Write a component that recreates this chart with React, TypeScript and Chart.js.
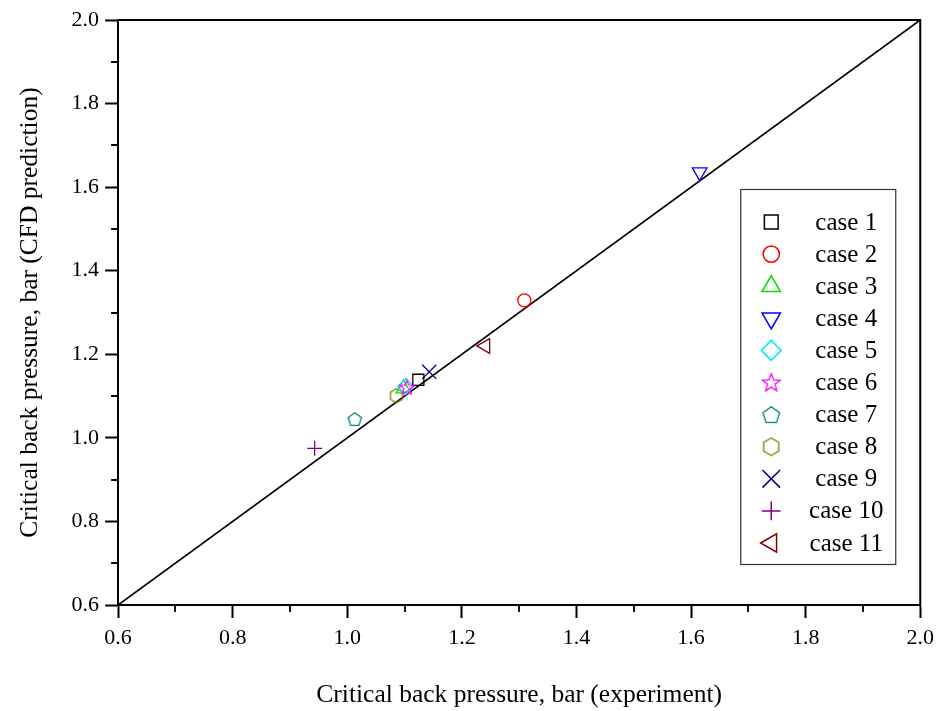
import React, { useEffect, useRef } from 'react';
import Chart from 'chart.js/auto';
import { drawPoint } from 'chart.js/helpers';

const caseLabels = ['case 1', 'case 2', 'case 3', 'case 4', 'case 5', 'case 6', 'case 7', 'case 8', 'case 9', 'case 10', 'case 11'];
const expValues = [1.124, 1.309, 1.098, 1.615, 1.102, 1.104, 1.013, 1.086, 1.143, 0.943, 1.241];
const cfdValues = [1.139, 1.329, 1.118, 1.636, 1.123, 1.121, 1.045, 1.101, 1.158, 0.975, 1.220];
const caseColors = ['#000000', '#ff0000', '#00e000', '#0000ff', '#00e8ff', '#ff00ff', '#008080', '#808000', '#000080', '#800080', '#800000'];
const diagonalValues = [0.6, 2.0];
const axisMin = 0.6;
const axisMax = 2.0;
const xTitle = 'Critical back pressure, bar (experiment)';
const yTitle = 'Critical back pressure, bar (CFD prediction)';

const FONT = '"Liberation Serif", "Times New Roman", serif';

function makeShape(kind: string, color: string, k: number): HTMLCanvasElement {
  const size = Math.ceil(18 * k) + 2;
  const c = document.createElement('canvas');
  c.width = size;
  c.height = size;
  const ctx = c.getContext('2d')!;
  ctx.strokeStyle = color;
  ctx.lineWidth = 1.3;
  ctx.lineJoin = 'miter';
  const cx = size / 2;
  const cy = size / 2;
  ctx.beginPath();
  if (kind === 'star') {
    const ro = 7.5 * k, ri = 3.2 * k;
    for (let i = 0; i < 10; i++) {
      const r = i % 2 === 0 ? ro : ri;
      const a = -Math.PI / 2 + (i * Math.PI) / 5;
      const px = cx + r * Math.cos(a);
      const py = cy + r * Math.sin(a) + 0.5 * k;
      if (i === 0) ctx.moveTo(px, py); else ctx.lineTo(px, py);
    }
  } else if (kind === 'pentagon') {
    const r = 7 * k;
    for (let i = 0; i < 5; i++) {
      const a = -Math.PI / 2 + (i * 2 * Math.PI) / 5;
      const px = cx + r * Math.cos(a);
      const py = cy + r * Math.sin(a) + 0.7 * k;
      if (i === 0) ctx.moveTo(px, py); else ctx.lineTo(px, py);
    }
  } else {
    const r = 7 * k;
    for (let i = 0; i < 6; i++) {
      const a = -Math.PI / 2 + (i * 2 * Math.PI) / 6;
      const px = cx + r * Math.cos(a);
      const py = cy + r * Math.sin(a);
      if (i === 0) ctx.moveTo(px, py); else ctx.lineTo(px, py);
    }
  }
  ctx.closePath();
  ctx.stroke();
  return c;
}

const isMajor = (v: number) => Math.round(v * 10) % 2 === 0;

function buildStyles(k: number): any[] {
  return [
    { pointStyle: 'rect', radius: 7.8 * k, rotation: 0 },
    { pointStyle: 'circle', radius: 6.5 * k, rotation: 0 },
    { pointStyle: 'triangle', radius: 8.5 * k, rotation: 0 },
    { pointStyle: 'triangle', radius: 8.5 * k, rotation: 180 },
    { pointStyle: 'rectRot', radius: 8 * k, rotation: 0 },
    { pointStyle: makeShape('star', caseColors[5], k), radius: 8 * k, rotation: 0 },
    { pointStyle: makeShape('pentagon', caseColors[6], k), radius: 8 * k, rotation: 0 },
    { pointStyle: makeShape('hexagon', caseColors[7], k), radius: 8 * k, rotation: 0 },
    { pointStyle: 'crossRot', radius: 10 * k, rotation: 0 },
    { pointStyle: 'cross', radius: 7.5 * k, rotation: 0 },
    { pointStyle: 'triangle', radius: 8.5 * k, rotation: -90 },
  ];
}

export default function App() {
  const ref = useRef<HTMLCanvasElement | null>(null);
  useEffect(() => {
    document.body.style.margin = '0';
    const styles = buildStyles(1);
    const legendStyles = buildStyles(1.25);
    const drawOrder = [1, 2, 5, 3, 4, 0, 6, 7, 1, 8, 9];
    const scatterSets = caseLabels.map((label, i) => ({
      type: 'scatter' as const,
      label,
      data: [{ x: expValues[i], y: cfdValues[i] }],
      borderColor: caseColors[i],
      backgroundColor: 'rgba(0,0,0,0)',
      borderWidth: 1.3,
      pointStyle: styles[i].pointStyle,
      pointRadius: styles[i].radius,
      pointRotation: styles[i].rotation,
      pointHoverRadius: styles[i].radius,
      order: drawOrder[i],
    }));
    const lineSet = {
      type: 'line' as const,
      label: 'y = x',
      data: diagonalValues.map((v) => ({ x: v, y: v })),
      borderColor: '#000',
      borderWidth: 1.6,
      pointRadius: 0,
      fill: false,
      order: 20,
    };

    const frameAndTicks = {
      id: 'frameAndTicks',
      afterDraw(chart: any) {
        const ctx = chart.ctx;
        const a = chart.chartArea;
        ctx.save();
        ctx.strokeStyle = '#000';
        ctx.lineWidth = 2;
        ctx.beginPath();
        ctx.moveTo(a.left, a.top);
        ctx.lineTo(a.right, a.top);
        ctx.lineTo(a.right, a.bottom);
        ctx.stroke();
        // minor ticks
        const xs = chart.scales.x;
        const ys = chart.scales.y;
        ctx.lineWidth = 1.8;
        ctx.beginPath();
        xs.ticks.forEach((t: any) => {
          if (!isMajor(t.value)) {
            const px = Math.round(xs.getPixelForValue(t.value));
            ctx.moveTo(px, a.bottom);
            ctx.lineTo(px, a.bottom + 7);
          }
        });
        ys.ticks.forEach((t: any) => {
          if (!isMajor(t.value)) {
            const py = Math.round(ys.getPixelForValue(t.value));
            ctx.moveTo(a.left, py);
            ctx.lineTo(a.left - 7, py);
          }
        });
        ctx.stroke();
        // legend box
        const bx = a.right - 180;
        const by = a.top + 169;
        const bw = 155;
        const bh = 375;
        ctx.fillStyle = '#fff';
        ctx.fillRect(bx, by, bw, bh);
        ctx.lineWidth = 1.2;
        ctx.strokeStyle = '#333';
        ctx.strokeRect(bx + 0.5, by + 0.5, bw, bh);
        ctx.font = `25px ${FONT}`;
        ctx.textAlign = 'center';
        ctx.textBaseline = 'middle';
        caseLabels.forEach((label, i) => {
          const yy = by + 33 + i * 32.1;
          ctx.strokeStyle = caseColors[i];
          ctx.fillStyle = 'rgba(0,0,0,0)';
          ctx.lineWidth = 1.5;
          drawPoint(ctx, {
            pointStyle: legendStyles[i].pointStyle,
            radius: legendStyles[i].radius,
            rotation: legendStyles[i].rotation,
            borderWidth: 1.5,
          } as any, bx + 31, yy);
          ctx.fillStyle = '#000';
          ctx.fillText(label, bx + 106, yy + 1);
        });
        ctx.restore();
      },
    };

    const tickCommon = {
      stepSize: 0.1,
      autoSkip: false,
      maxRotation: 0,
      color: '#000',
      font: { family: FONT, size: 22 },
      callback: (v: any) => (isMajor(Number(v)) ? Number(v).toFixed(1) : ''),
    };
    const gridCommon = {
      drawOnChartArea: false,
      drawTicks: true,
      tickLength: 13,
      tickWidth: 2,
      tickColor: (c: any) => (c.tick && isMajor(c.tick.value) ? '#000' : 'rgba(0,0,0,0)'),
    };

    const chart = new Chart(ref.current!, {
      data: { datasets: [...scatterSets, lineSet] as any },
      options: {
        responsive: false,
        animation: false,
        layout: { padding: { left: 15, right: 20, top: 20, bottom: 0 } },
        plugins: { legend: { display: false }, tooltip: { enabled: false } },
        scales: {
          x: {
            type: 'linear',
            min: axisMin,
            max: axisMax,
            ticks: { ...tickCommon, padding: 7 },
            grid: gridCommon as any,
            border: { display: true, color: '#000', width: 2 },
            title: { display: true, text: xTitle, color: '#000', font: { family: FONT, size: 25.5 }, padding: { top: 22, bottom: 0 } },
          },
          y: {
            type: 'linear',
            min: axisMin,
            max: axisMax,
            ticks: { ...tickCommon, padding: 6 },
            grid: gridCommon as any,
            border: { display: true, color: '#000', width: 2 },
            title: { display: true, text: yTitle, color: '#000', font: { family: FONT, size: 25.5 }, padding: { top: 0, bottom: 20 } },
          },
        },
      },
      plugins: [frameAndTicks],
    });
    return () => chart.destroy();
  }, []);
  return <canvas ref={ref} width={941} height={711} style={{ display: 'block' }} />;
}
